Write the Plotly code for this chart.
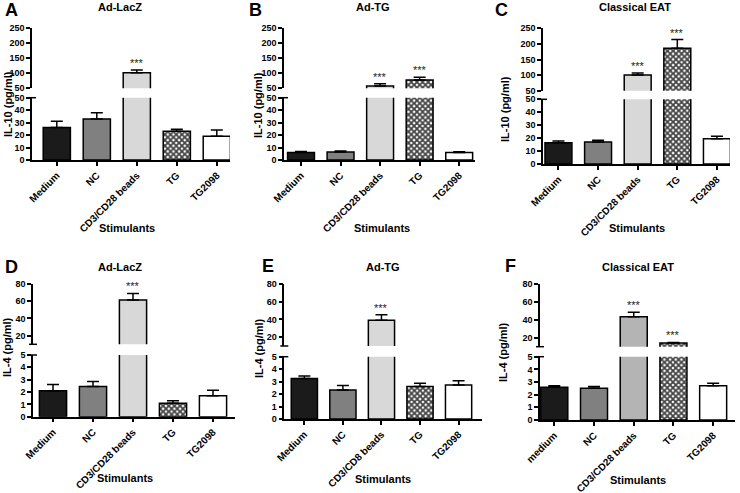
import plotly.graph_objects as go

W, H = 740, 493

# ---------------- data ----------------
cats_std = ["Medium", "NC", "CD3/CD28 beads", "TG", "TG2098"]
cats_e = ["Medium", "NC", "CD3/CD8 beads", "TG", "TG2098"]
cats_f = ["medium", "NC", "CD3/CD28 beads", "TG", "TG2098"]

panel_letters = ["A", "B", "C", "D", "E", "F"]
panel_titles = ["Ad-LacZ", "Ad-TG", "Classical EAT", "Ad-LacZ", "Ad-TG", "Classical EAT"]
y_titles = ["IL-10 (pg/ml)", "IL-10 (pg/ml)", "IL-10 (pg/ml)", "IL-4 (pg/ml)", "IL-4 (pg/ml)", "IL-4 (pg/ml)"]
x_title = "Stimulants"

il10_lacz = [26, 33, 102, 23, 19]
il10_lacz_err = [5, 5, 9, 1.7, 5]
il10_adtg = [6, 6.5, 58, 78, 6]
il10_adtg_err = [0.8, 0.8, 7, 9, 0.7]
il10_eat = [16.5, 17, 100, 186, 19.5]
il10_eat_err = [1.3, 1.3, 7, 28, 2]
il4_lacz = [2.1, 2.45, 61.5, 1.1, 1.7]
il4_lacz_err = [0.5, 0.4, 7.5, 0.2, 0.45]
il4_adtg = [3.25, 2.33, 39, 2.6, 2.73]
il4_adtg_err = [0.2, 0.35, 6.3, 0.27, 0.34]
il4_eat = [2.58, 2.5, 43.5, 14, 2.7]
il4_eat_err = [0.13, 0.15, 5, 0.8, 0.2]

sig_a = [0, 0, 1, 0, 0]
sig_b = [0, 0, 1, 1, 0]
sig_c = [0, 0, 1, 1, 0]
sig_d = [0, 0, 1, 0, 0]
sig_e = [0, 0, 1, 0, 0]
sig_f = [0, 0, 1, 1, 0]

il10_low_ticks = [0, 10, 20, 30, 40, 50]
il10_high_ticks = [50, 100, 150, 200, 250]
il4_low_ticks = [0, 1, 2, 3, 4, 5]
il4_high_ticks = [20, 40, 60, 80]

# ---------------- styles ----------------
FONT = "Arial, 'Liberation Sans', Helvetica, sans-serif"
fill_std = ["#1b1b1b", "#808080", "#d8d8d8", "white", "white"]
fill_f = ["#1b1b1b", "#808080", "#b4b4b4", "white", "white"]
pattern_shapes = ["", "", "", "x", ""]

panels = [
    dict(cats=cats_std, v=il10_lacz, e=il10_lacz_err, sig=sig_a, fill=fill_std,
         lo=[0, 50], hi=[50, 250], lot=il10_low_ticks, hit=il10_high_ticks,
         xpx=[32, 230], top=[28.3, 88.3], bot=[97.7, 160], xr=[-0.62, 4.33],
         letter=(3, 10), title=(120, 7), ytit=(8, 104), xtit=(127, 228), hicap=False),
    dict(cats=cats_std, v=il10_adtg, e=il10_adtg_err, sig=sig_b, fill=fill_std,
         lo=[0, 50], hi=[50, 250], lot=il10_low_ticks, hit=il10_high_ticks,
         xpx=[284, 475], top=[28.3, 88.3], bot=[97.7, 160], xr=[-0.43, 4.4],
         letter=(247, 10), title=(373, 7), ytit=(258, 105), xtit=(382, 228), hicap=False),
    dict(cats=cats_std, v=il10_eat, e=il10_eat_err, sig=sig_c, fill=fill_std,
         lo=[0, 50], hi=[50, 250], lot=il10_low_ticks, hit=il10_high_ticks,
         xpx=[543, 730], top=[28.3, 90.7], bot=[99.3, 164], xr=[-0.39, 4.33],
         letter=(493, 10), title=(635, 7), ytit=(505, 109), xtit=(637, 228), hicap=False),
    dict(cats=cats_std, v=il4_lacz, e=il4_lacz_err, sig=sig_d, fill=fill_std,
         lo=[0, 5], hi=[10, 80], lot=il4_low_ticks, hit=il4_high_ticks,
         xpx=[33, 235], top=[284, 344.3], bot=[355, 416.7], xr=[-0.5, 4.55],
         letter=(3, 267), title=(120, 267), ytit=(7, 347), xtit=(125, 478), hicap=True),
    dict(cats=cats_e, v=il4_adtg, e=il4_adtg_err, sig=sig_e, fill=fill_std,
         lo=[0, 5], hi=[10, 80], lot=il4_low_ticks, hit=il4_high_ticks,
         xpx=[284.3, 481.7], top=[284, 346], bot=[356.7, 419], xr=[-0.52, 4.6],
         letter=(260, 266), title=(383, 267), ytit=(259, 348), xtit=(383, 479), hicap=True),
    dict(cats=cats_f, v=il4_eat, e=il4_eat_err, sig=sig_f, fill=fill_f,
         lo=[0, 5], hi=[10, 80], lot=il4_low_ticks, hit=il4_high_ticks,
         xpx=[540, 735], top=[284, 346.7], bot=[356.7, 420], xr=[-0.36, 4.55],
         letter=(503, 266), title=(638, 267), ytit=(503, 352), xtit=(638, 480), hicap=True),
]


def px_x(x):
    return x / W


def px_y(y):
    return 1 - y / H


def ax_name(k, kind):
    return kind + ("" if k == 1 else str(k))


fig = go.Figure()
layout = {}
annotations = []
shapes = []

for p, P in enumerate(panels):
    for s in (0, 1):  # 0 = lower segment, 1 = upper segment
        k = 2 * p + s + 1
        xa, ya = ax_name(k, "x"), ax_name(k, "y")
        fig.add_trace(go.Bar(
            x=P["cats"], y=P["v"], xaxis=xa, yaxis=ya, showlegend=False,
            marker=dict(color=P["fill"], line=dict(color="black", width=1.5),
                        pattern=dict(shape=pattern_shapes, fillmode="overlay", fgcolor="black",
                                     fgopacity=1, size=4, solidity=0.7)),
            error_y=dict(type="data", array=P["e"], arrayminus=[0] * len(P["e"]), symmetric=False,
                         color="black", thickness=1.5, width=6),
        ))
        seg = P["bot"] if s == 0 else P["top"]
        layout["xaxis" + ("" if k == 1 else str(k))] = dict(
            domain=[px_x(P["xpx"][0]), px_x(P["xpx"][1])], anchor=ya,
            range=P["xr"], type="category", automargin=False,
            visible=(s == 0), showline=True, linecolor="black", linewidth=1.5,
            ticks="outside", ticklen=4, tickwidth=1.5, tickcolor="black",
            tickangle=-45, showgrid=False, zeroline=False,
            tickfont=dict(family=FONT, size=10, color="black", weight="bold"),
        )
        layout["yaxis" + ("" if k == 1 else str(k))] = dict(
            domain=[px_y(seg[1]), px_y(seg[0])], anchor=xa, automargin=False,
            range=P["lo"] if s == 0 else P["hi"],
            tickvals=P["lot"] if s == 0 else P["hit"],
            showline=True, linecolor="black", linewidth=1.5,
            ticks="outside", ticklen=4, tickwidth=1.5, tickcolor="black",
            showgrid=False, zeroline=False,
            tickfont=dict(family=FONT, size=9, color="black", weight="bold"),
        )
        # axis break caps
        if s == 0 or P["hicap"]:
            yy = 1 if s == 0 else 0
            shapes.append(dict(type="line", xref=xa + " domain", yref=ya + " domain",
                               xsizemode="pixel", xanchor=0, x0=-4, x1=4, y0=yy, y1=yy,
                               line=dict(color="black", width=1.5)))
        if s == 1:
            for i, flag in enumerate(P["sig"]):
                if flag:
                    annotations.append(dict(
                        x=P["cats"][i], y=P["v"][i] + P["e"][i], xref=xa, yref=ya,
                        text="***", showarrow=False, yanchor="bottom", yshift=-1,
                        font=dict(family=FONT, size=11, color="#222")))

    # texts
    annotations.append(dict(x=px_x(P["letter"][0]), y=px_y(P["letter"][1]), xref="paper", yref="paper",
                            text=panel_letters[p], showarrow=False, xanchor="left", yanchor="middle",
                            font=dict(family=FONT, size=18, color="black", weight="bold")))
    annotations.append(dict(x=px_x(P["title"][0]), y=px_y(P["title"][1]), xref="paper", yref="paper",
                            text=panel_titles[p], showarrow=False, xanchor="center", yanchor="middle",
                            font=dict(family=FONT, size=11, color="black", weight="bold")))
    annotations.append(dict(x=px_x(P["ytit"][0]), y=px_y(P["ytit"][1]), xref="paper", yref="paper",
                            text=y_titles[p], showarrow=False, textangle=-90, xanchor="center",
                            yanchor="middle",
                            font=dict(family=FONT, size=11, color="black", weight="bold")))
    annotations.append(dict(x=px_x(P["xtit"][0]), y=px_y(P["xtit"][1]), xref="paper", yref="paper",
                            text=x_title, showarrow=False, xanchor="center", yanchor="middle",
                            font=dict(family=FONT, size=11, color="black", weight="bold")))

fig.update_layout(
    template="none",
    width=W, height=H, margin=dict(l=0, r=0, t=0, b=0, autoexpand=False),
    paper_bgcolor="white", plot_bgcolor="white",
    font=dict(family=FONT, color="black"),
    bargap=0.32, annotations=annotations, shapes=shapes, **layout,
)

fig.write_html("out.html", config={"displayModeBar": False},
               post_script="document.body.style.margin='0';document.body.style.padding='0';")
